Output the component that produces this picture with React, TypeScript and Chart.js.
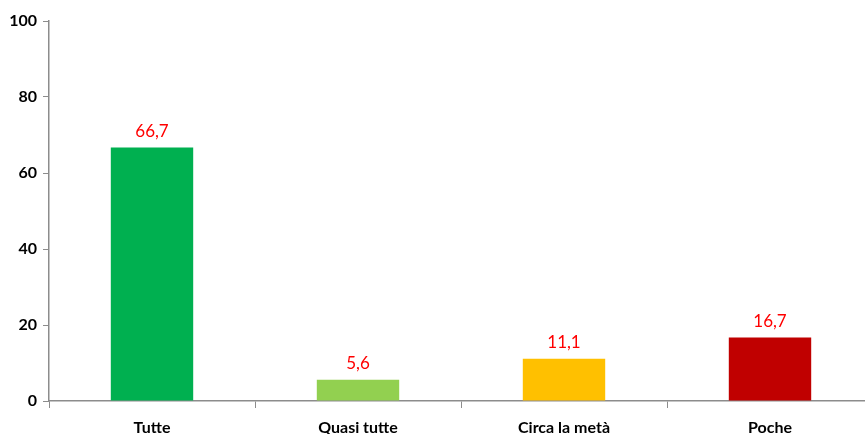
import React, { useEffect, useRef } from "react";
import { Chart, registerables } from "chart.js";

Chart.register(...registerables);

const categories = ["Tutte", "Quasi tutte", "Circa la metà", "Poche"];
const values = [66.7, 5.6, 11.1, 16.7];
const barColors = ["#00B050", "#92D050", "#FFC000", "#C00000"];
const yTicks = [0, 20, 40, 60, 80, 100];

const FONT = "Lato, 'Open Sans', 'Liberation Sans', sans-serif";

const labelPlugin = {
  id: "valueLabels",
  afterDatasetsDraw(chart: any) {
    const ctx = chart.ctx;
    const meta = chart.getDatasetMeta(0);
    ctx.save();
    ctx.fillStyle = "#FF0000";
    ctx.font = `17px ${FONT}`;
    ctx.textAlign = "center";
    ctx.textBaseline = "alphabetic";
    meta.data.forEach((bar: any, i: number) => {
      const txt = values[i].toFixed(1).replace(".", ",");
      ctx.fillText(txt, bar.x, bar.y - 11);
    });
    ctx.restore();
  },
};

export default function App() {
  const ref = useRef<HTMLCanvasElement>(null);
  useEffect(() => {
    if (!ref.current) return;
    const chart = new Chart(ref.current, {
      type: "bar",
      data: {
        labels: categories,
        datasets: [
          {
            data: values,
            backgroundColor: barColors,
            categoryPercentage: 0.8,
            barPercentage: 0.5,
          },
        ],
      },
      options: {
        animation: false,
        responsive: false,
        maintainAspectRatio: false,
        layout: { padding: { top: 21, right: 7, left: 0, bottom: 0 } },
        plugins: { legend: { display: false }, tooltip: { enabled: false } },
        scales: {
          x: {
            grid: {
              display: true,
              drawOnChartArea: false,
              drawTicks: true,
              tickLength: 7,
              color: "#8C8C8C",
              offset: true,
            },
            border: { display: true, color: "#8C8C8C", width: 1.5 },
            ticks: {
              color: "#000",
              font: { family: FONT, size: 16, weight: "bold" },
              padding: 10,
              maxRotation: 0,
            },
            afterFit: (s: any) => {
              s.height = 33;
            },
          },
          y: {
            min: 0,
            max: 100,
            afterBuildTicks: (s: any) => {
              s.ticks = yTicks.map((v) => ({ value: v }));
            },
            grid: {
              display: true,
              drawOnChartArea: false,
              drawTicks: true,
              tickLength: 6,
              color: "#8C8C8C",
            },
            border: { display: true, color: "#8C8C8C", width: 1.5 },
            ticks: {
              color: "#000",
              font: { family: FONT, size: 16, weight: "bold" },
              padding: 6,
            },
            afterFit: (s: any) => {
              s.width = 49;
            },
          },
        },
      },
      plugins: [labelPlugin],
    });
    return () => chart.destroy();
  }, []);
  return (
    <div
      style={{
        position: "fixed",
        left: 0,
        top: 0,
        width: 865,
        height: 434,
        overflow: "hidden",
        background: "#fff",
      }}
    >
      <canvas ref={ref} width={880} height={434} style={{ display: "block" }} />
    </div>
  );
}
